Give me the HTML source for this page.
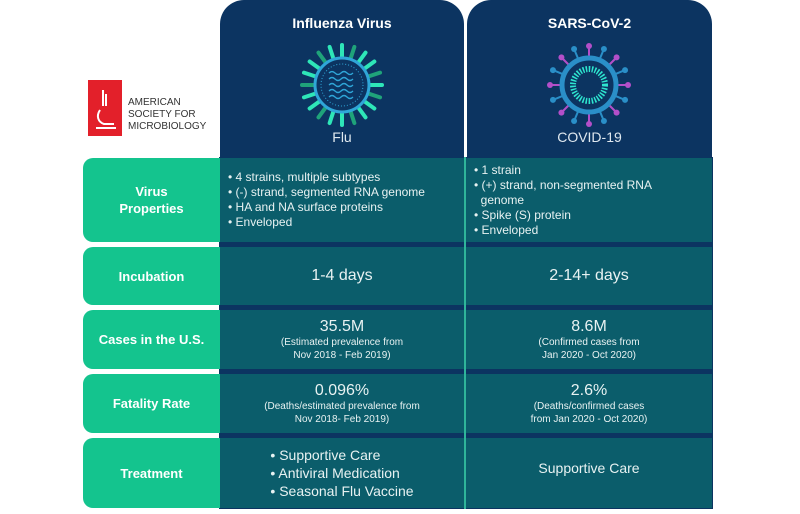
<!DOCTYPE html>
<html><head><meta charset="utf-8"><style>
*{margin:0;padding:0;box-sizing:border-box}
body{width:800px;height:514px;background:#fff;position:relative;overflow:hidden;font-family:"Liberation Sans",sans-serif;color:#e8f2f2}
.abs{position:absolute}
.hdr{background:#0c3461;border-radius:24px 24px 0 0;top:0;height:160px}
.hdr h2{position:absolute;top:15px;width:100%;text-align:center;font-size:14px;font-weight:bold;color:#fff}
.hdr .sub{position:absolute;top:129px;width:100%;text-align:center;font-size:14px;color:#dfe8ef}
.navy{background:#0c3461}
.lab{background:#14c48e;border-radius:10px 0 0 10px;left:83px;width:137px;display:flex;align-items:center;justify-content:center;text-align:center;font-weight:bold;font-size:13px;color:#fff;line-height:17px}
.cell{background:#0b5d6b;display:flex;flex-direction:column;align-items:center;justify-content:center;text-align:center}
.big{font-size:16px;line-height:18px}
.sm{font-size:10px;line-height:13px}
ul{list-style:none;font-size:12px;line-height:15px;text-align:left}
</style></head><body>
<div class="abs" style="left:88px;top:80px;width:124px;height:56px">
 <div class="abs" style="left:0;top:0;width:34px;height:56px;background:#e3202a">
  <svg width="34" height="56"><g stroke="#fff" stroke-width="2" fill="none"><path d="M15 10v16"/><path d="M18 14v12"/><path d="M12 30c-4 6-2 12 4 14h10"/><path d="M8 48h20"/></g></svg>
 </div>
 <div class="abs" style="left:40px;top:17px;font-size:10px;line-height:12px;color:#333">AMERICAN<br>SOCIETY FOR<br>MICROBIOLOGY</div>
</div>

<div class="abs hdr" style="left:220px;width:244px"><h2>Influenza Virus</h2><svg id="flu" class="abs" style="left:77px;top:42px" width="90" height="86"></svg><div class="sub">Flu</div></div>
<div class="abs hdr" style="left:467px;width:245px"><h2>SARS-CoV-2</h2><svg id="cov" class="abs" style="left:77px;top:42px" width="90" height="86"></svg><div class="sub">COVID-19</div></div>

<div class="abs navy" style="left:219px;top:157px;width:494px;height:352px"></div>
<div class="abs" style="left:464px;top:157px;width:2px;height:352px;background:#2fb59a"></div>

<div class="abs lab" style="top:158px;height:84px">Virus<br>Properties</div>
<div class="abs cell" style="left:220px;top:158px;width:244px;height:84px;align-items:flex-start;padding-left:8px"><ul><li>• 4 strains, multiple subtypes</li><li>• (-) strand, segmented RNA genome</li><li>• HA and NA surface proteins</li><li>• Enveloped</li></ul></div>
<div class="abs cell" style="left:466px;top:158px;width:246px;height:84px;align-items:flex-start;padding-left:8px"><ul><li>• 1 strain</li><li>• (+) strand, non-segmented RNA<br>&nbsp;&nbsp;genome</li><li>• Spike (S) protein</li><li>• Enveloped</li></ul></div>
<div class="abs lab" style="top:247px;height:58px">Incubation</div>
<div class="abs cell" style="left:220px;top:247px;width:244px;height:58px"><div class="big">1-4 days</div></div>
<div class="abs cell" style="left:466px;top:247px;width:246px;height:58px"><div class="big">2-14+ days</div></div>
<div class="abs lab" style="top:310px;height:59px">Cases in the U.S.</div>
<div class="abs cell" style="left:220px;top:310px;width:244px;height:59px"><div class="big">35.5M</div><div class="sm">(Estimated prevalence from<br>Nov 2018 - Feb 2019)</div></div>
<div class="abs cell" style="left:466px;top:310px;width:246px;height:59px"><div class="big">8.6M</div><div class="sm">(Confirmed cases from<br>Jan 2020 - Oct 2020)</div></div>
<div class="abs lab" style="top:374px;height:59px">Fatality Rate</div>
<div class="abs cell" style="left:220px;top:374px;width:244px;height:59px"><div class="big">0.096%</div><div class="sm">(Deaths/estimated prevalence from<br>Nov 2018- Feb 2019)</div></div>
<div class="abs cell" style="left:466px;top:374px;width:246px;height:59px"><div class="big">2.6%</div><div class="sm">(Deaths/confirmed cases<br>from Jan 2020 - Oct 2020)</div></div>
<div class="abs lab" style="top:438px;height:70px">Treatment</div>
<div class="abs cell" style="left:220px;top:438px;width:244px;height:70px"><ul style="font-size:14px;line-height:18px"><li>• Supportive Care</li><li>• Antiviral Medication</li><li>• Seasonal Flu Vaccine</li></ul></div>
<div class="abs cell" style="left:466px;top:438px;width:246px;height:70px;justify-content:flex-start;padding-top:22px"><div style="font-size:14px">Supportive Care</div></div>

<script>
var NS="http://www.w3.org/2000/svg";
function el(p,t,a){var e=document.createElementNS(NS,t);for(var k in a)e.setAttribute(k,a[k]);p.appendChild(e);return e;}
var f=document.getElementById('flu');


var cx=45,cy=43;
for(var i=0;i<20;i++){var a=i*Math.PI*2/20;el(f,'line',{x1:cx+28*Math.cos(a),y1:cy+28*Math.sin(a),x2:cx+40*Math.cos(a),y2:cy+40*Math.sin(a),stroke:i%3==1?'#1fa37a':'#2ee6b8','stroke-width':4,'stroke-linecap':'round'});}
el(f,'circle',{cx:cx,cy:cy,r:27,fill:'#0c3461',stroke:'#2fa6d8','stroke-width':3});
el(f,'circle',{cx:cx,cy:cy,r:21,fill:'none',stroke:'#2fa6d8','stroke-width':1,'stroke-dasharray':'1 2'});
for(var j=0;j<5;j++)el(f,'path',{d:'M'+(cx-13)+' '+(cy-12+j*6)+' q3 -3 6 0 t6 0 t6 0 t6 0',fill:'none',stroke:'#2fa6d8','stroke-width':1.3});
var c=document.getElementById('cov');


for(var i=0;i<16;i++){var a=i*Math.PI*2/16,col=i%2?'#2a8fc8':'#b34fc9';el(c,'line',{x1:cx+26*Math.cos(a),y1:cy+26*Math.sin(a),x2:cx+38*Math.cos(a),y2:cy+38*Math.sin(a),stroke:col,'stroke-width':2});el(c,'circle',{cx:cx+39*Math.cos(a),cy:cy+39*Math.sin(a),r:3,fill:col});}
el(c,'circle',{cx:cx,cy:cy,r:27,fill:'#0c3461',stroke:'#2a8fc8','stroke-width':5});
el(c,'circle',{cx:cx,cy:cy,r:16,fill:'none',stroke:'#2ee6d0','stroke-width':6,'stroke-dasharray':'1.5 1.5'});
</script>
</body></html>
